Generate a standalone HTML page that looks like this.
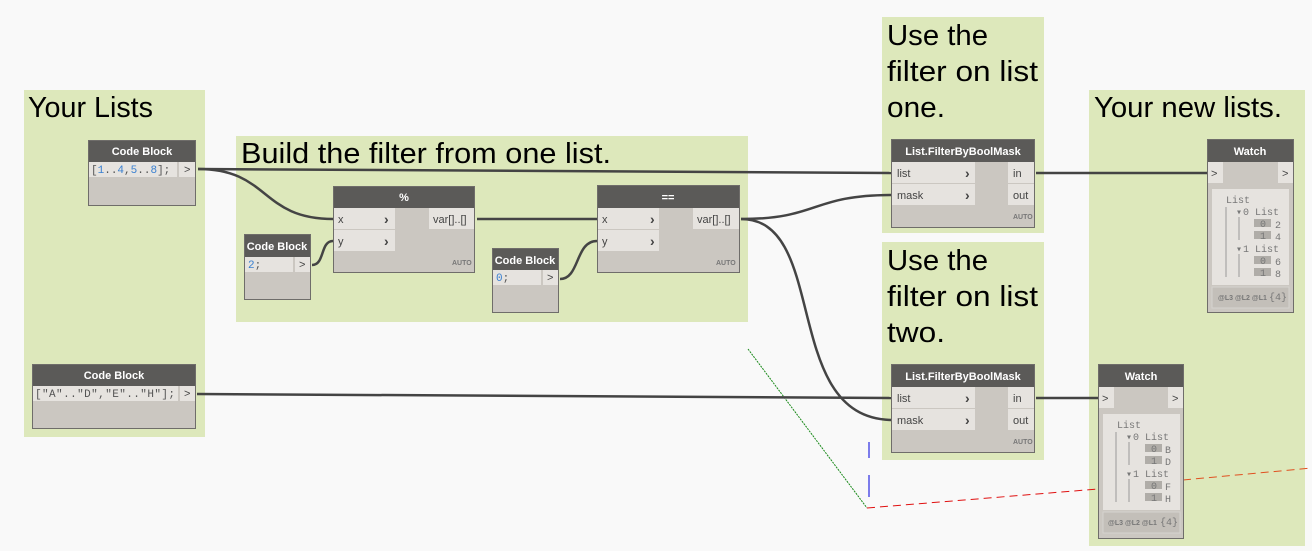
<!DOCTYPE html>
<html><head><meta charset="utf-8"><style>
html,body{margin:0;padding:0;background:#f9f9f9;}
svg{display:block;}
text{font-family:"Liberation Sans",sans-serif;}
.t{font-size:29px;fill:#000;}
.h{font-size:11px;fill:#fff;font-weight:bold;text-anchor:middle;}
.p{font-size:11px;fill:#444;}
.m{font-family:"Liberation Mono",monospace;font-size:11px;}
.a{font-size:7px;fill:#777;font-weight:bold;}
.w{font-family:"Liberation Mono",monospace;font-size:10px;fill:#777;}
.ar{font-size:14px;fill:#444;font-weight:bold;}
</style></head><body>
<svg width="1312" height="551" viewBox="0 0 1312 551">
<rect width="1312" height="551" fill="#f9f9f9"/>
<g fill="#dde8bb">
<rect x="24" y="90" width="181" height="347"/>
<rect x="236" y="136" width="512" height="186"/>
<rect x="882" y="17" width="162" height="216"/>
<rect x="882" y="242" width="162" height="218"/>
<rect x="1089" y="90" width="216" height="456"/>
</g>
<g class="t">
<text class="t" x="28" y="117" textLength="125" lengthAdjust="spacingAndGlyphs">Your Lists</text>
<text class="t" x="241" y="163" textLength="370" lengthAdjust="spacingAndGlyphs">Build the filter from one list.</text>
<text class="t" x="887" y="45" textLength="101" lengthAdjust="spacingAndGlyphs">Use the</text>
<text class="t" x="887" y="81" textLength="151" lengthAdjust="spacingAndGlyphs">filter on list</text>
<text class="t" x="887" y="117" textLength="58" lengthAdjust="spacingAndGlyphs">one.</text>
<text class="t" x="887" y="270" textLength="101" lengthAdjust="spacingAndGlyphs">Use the</text>
<text class="t" x="887" y="306" textLength="151" lengthAdjust="spacingAndGlyphs">filter on list</text>
<text class="t" x="887" y="342" textLength="58" lengthAdjust="spacingAndGlyphs">two.</text>
<text class="t" x="1094" y="117" textLength="188" lengthAdjust="spacingAndGlyphs">Your new lists.</text>
</g>

<line x1="748" y1="349" x2="867" y2="508" stroke="#1a8a1a" stroke-width="1" stroke-dasharray="2,1"/>
<line x1="867" y1="508" x2="1098" y2="489" stroke="#e01010" stroke-width="1" stroke-dasharray="8,5"/>
<line x1="1183" y1="480" x2="1312" y2="468" stroke="#e05020" stroke-width="1" stroke-dasharray="8,5"/>
<line x1="869" y1="442" x2="869" y2="458" stroke="#0000dd" stroke-width="1"/>
<line x1="869" y1="475" x2="869" y2="497" stroke="#0000dd" stroke-width="1"/>

<g fill="none" stroke="#444" stroke-width="2.5">
<path d="M198 169 L893 173"/>
<path d="M198 169 C270 169 260 219 333 219"/>
<path d="M312 265 C325 265 320 241 333 241"/>
<path d="M477 219 L597 219"/>
<path d="M560 279 C580 279 575 241 597 241"/>
<path d="M741 219 C820 219 810 195 893 195"/>
<path d="M741 219 C830 219 780 420 893 420"/>
<path d="M197 394 L893 398"/>
<path d="M1036 173 L1207 173"/>
<path d="M1036 398 L1098 398"/>
</g>

<g>
<rect x="88.5" y="140.5" width="107" height="65" fill="#cbc7c1" stroke="#6f6d6a"/>
<rect x="89" y="141" width="106" height="21" fill="#5b5a58"/>
<text class="h" x="142" y="155">Code Block</text>
<rect x="89" y="162" width="88" height="15" fill="#e6e3df"/>
<rect x="179" y="162" width="16" height="15" fill="#e6e3df"/>
<text class="m" x="91" y="173"><tspan fill="#555">[</tspan><tspan fill="#3a80d0">1</tspan><tspan fill="#555">..</tspan><tspan fill="#3a80d0">4</tspan><tspan fill="#555">,</tspan><tspan fill="#3a80d0">5</tspan><tspan fill="#555">..</tspan><tspan fill="#3a80d0">8</tspan><tspan fill="#555">];</tspan></text>
<text class="p" x="184" y="173">&gt;</text>
</g>
<g>
<rect x="32.5" y="364.5" width="163" height="64" fill="#cbc7c1" stroke="#6f6d6a"/>
<rect x="33" y="365" width="162" height="21" fill="#5b5a58"/>
<text class="h" x="114" y="379">Code Block</text>
<rect x="33" y="386" width="145" height="15" fill="#e6e3df"/>
<rect x="180" y="386" width="15" height="15" fill="#e6e3df"/>
<text class="m" x="35" y="397" fill="#555" textLength="140">["A".."D","E".."H"];</text>
<text class="p" x="184" y="397">&gt;</text>
</g>
<g>
<rect x="244.5" y="234.5" width="66" height="65" fill="#cbc7c1" stroke="#6f6d6a"/>
<rect x="245" y="235" width="65" height="22" fill="#5b5a58"/>
<text class="h" x="277" y="250">Code Block</text>
<rect x="245" y="257" width="48" height="15" fill="#e6e3df"/>
<rect x="295" y="257" width="15" height="15" fill="#e6e3df"/>
<text class="m" x="248" y="268"><tspan fill="#3a80d0">2</tspan><tspan fill="#555">;</tspan></text>
<text class="p" x="299" y="268">&gt;</text>
</g>
<g>
<rect x="492.5" y="248.5" width="66" height="64" fill="#cbc7c1" stroke="#6f6d6a"/>
<rect x="493" y="249" width="65" height="21" fill="#5b5a58"/>
<text class="h" x="525" y="264">Code Block</text>
<rect x="493" y="270" width="48" height="15" fill="#e6e3df"/>
<rect x="543" y="270" width="15" height="15" fill="#e6e3df"/>
<text class="m" x="496" y="281"><tspan fill="#3a80d0">0</tspan><tspan fill="#555">;</tspan></text>
<text class="p" x="547" y="281">&gt;</text>
</g>
<g>
<rect x="333.5" y="186.5" width="141" height="86" fill="#cbc7c1" stroke="#6f6d6a"/>
<rect x="334" y="187" width="140" height="21" fill="#5b5a58"/>
<text class="h" x="404" y="201">%</text>
<rect x="334" y="208" width="61" height="21" fill="#e6e3df"/>
<rect x="334" y="230" width="61" height="21" fill="#e6e3df"/>
<rect x="429" y="208" width="45" height="21" fill="#e6e3df"/>
<text class="p" x="338" y="223">x</text><text class="p" x="338" y="245">y</text>
<text class="ar" x="384" y="224">›</text><text class="ar" x="384" y="246">›</text>
<text class="p" x="433" y="223">var[]..[]</text>
<text class="a" x="452" y="265">AUTO</text>
</g>
<g>
<rect x="597.5" y="185.5" width="142" height="87" fill="#cbc7c1" stroke="#6f6d6a"/>
<rect x="598" y="186" width="141" height="22" fill="#5b5a58"/>
<text class="h" x="668" y="201">==</text>
<rect x="598" y="208" width="61" height="21" fill="#e6e3df"/>
<rect x="598" y="230" width="61" height="21" fill="#e6e3df"/>
<rect x="693" y="208" width="46" height="21" fill="#e6e3df"/>
<text class="p" x="602" y="223">x</text><text class="p" x="602" y="245">y</text>
<text class="ar" x="650" y="224">›</text><text class="ar" x="650" y="246">›</text>
<text class="p" x="697" y="223">var[]..[]</text>
<text class="a" x="716" y="265">AUTO</text>
</g>
<g>
<rect x="891.5" y="139.5" width="143" height="88" fill="#cbc7c1" stroke="#6f6d6a"/>
<rect x="892" y="140" width="142" height="22" fill="#5b5a58"/>
<text class="h" x="963" y="155">List.FilterByBoolMask</text>
<rect x="892" y="162" width="83" height="21" fill="#e6e3df"/>
<rect x="892" y="184" width="83" height="21" fill="#e6e3df"/>
<rect x="1008" y="162" width="26" height="21" fill="#e6e3df"/>
<rect x="1008" y="184" width="26" height="21" fill="#e6e3df"/>
<text class="p" x="897" y="177">list</text><text class="p" x="897" y="199">mask</text>
<text class="ar" x="965" y="178">›</text><text class="ar" x="965" y="200">›</text>
<text class="p" x="1013" y="177">in</text><text class="p" x="1013" y="199">out</text>
<text class="a" x="1013" y="219">AUTO</text>
</g>
<g>
<rect x="891.5" y="364.5" width="143" height="88" fill="#cbc7c1" stroke="#6f6d6a"/>
<rect x="892" y="365" width="142" height="22" fill="#5b5a58"/>
<text class="h" x="963" y="380">List.FilterByBoolMask</text>
<rect x="892" y="387" width="83" height="21" fill="#e6e3df"/>
<rect x="892" y="409" width="83" height="21" fill="#e6e3df"/>
<rect x="1008" y="387" width="26" height="21" fill="#e6e3df"/>
<rect x="1008" y="409" width="26" height="21" fill="#e6e3df"/>
<text class="p" x="897" y="402">list</text><text class="p" x="897" y="424">mask</text>
<text class="ar" x="965" y="403">›</text><text class="ar" x="965" y="425">›</text>
<text class="p" x="1013" y="402">in</text><text class="p" x="1013" y="424">out</text>
<text class="a" x="1013" y="444">AUTO</text>
</g>
<g>
<rect x="1207.5" y="139.5" width="86" height="173" fill="#cbc7c1" stroke="#6f6d6a"/>
<rect x="1208" y="140" width="85" height="22" fill="#5b5a58"/>
<text class="h" x="1250" y="155">Watch</text>
<rect x="1208" y="162" width="15" height="21" fill="#e6e3df"/>
<rect x="1278" y="162" width="15" height="21" fill="#e6e3df"/>
<text class="p" x="1211" y="177">&gt;</text><text class="p" x="1282" y="177">&gt;</text>
<rect x="1212" y="189" width="77" height="96" fill="#e6e3df"/>
<text class="w" x="1226" y="203">List</text>
<text class="w" x="1236" y="215" fill="#6b9bc8">▾</text><text class="w" x="1243" y="215">0 List</text>
<rect x="1254" y="219" width="17" height="8" fill="#b0ada8"/><text class="w" x="1260" y="227">0</text><text class="w" x="1275" y="228">2</text>
<rect x="1254" y="231" width="17" height="8" fill="#b0ada8"/><text class="w" x="1260" y="239">1</text><text class="w" x="1275" y="240">4</text>
<text class="w" x="1236" y="252" fill="#6b9bc8">▾</text><text class="w" x="1243" y="252">1 List</text>
<rect x="1254" y="256" width="17" height="8" fill="#b0ada8"/><text class="w" x="1260" y="264">0</text><text class="w" x="1275" y="265">6</text>
<rect x="1254" y="268" width="17" height="8" fill="#b0ada8"/><text class="w" x="1260" y="276">1</text><text class="w" x="1275" y="277">8</text>
<g stroke="#999" stroke-width="1"><line x1="1226" y1="207" x2="1226" y2="277"/><line x1="1239" y1="217" x2="1239" y2="240"/><line x1="1239" y1="254" x2="1239" y2="277"/></g>
<rect x="1212" y="287" width="77" height="21" fill="#c3bfb9" stroke="#d6d3ce"/>
<text class="a" x="1218" y="300" fill="#666">@L3 @L2 @L1</text><text class="w" x="1269" y="300">{4}</text>
</g>
<g>
<rect x="1098.5" y="364.5" width="85" height="174" fill="#cbc7c1" stroke="#6f6d6a"/>
<rect x="1099" y="365" width="84" height="22" fill="#5b5a58"/>
<text class="h" x="1141" y="380">Watch</text>
<rect x="1099" y="387" width="15" height="21" fill="#e6e3df"/>
<rect x="1168" y="387" width="15" height="21" fill="#e6e3df"/>
<text class="p" x="1102" y="402">&gt;</text><text class="p" x="1172" y="402">&gt;</text>
<rect x="1103" y="414" width="77" height="96" fill="#e6e3df"/>
<text class="w" x="1117" y="428">List</text>
<text class="w" x="1126" y="440" fill="#6b9bc8">▾</text><text class="w" x="1133" y="440">0 List</text>
<rect x="1145" y="444" width="17" height="8" fill="#b0ada8"/><text class="w" x="1151" y="452">0</text><text class="w" x="1165" y="453">B</text>
<rect x="1145" y="456" width="17" height="8" fill="#b0ada8"/><text class="w" x="1151" y="464">1</text><text class="w" x="1165" y="465">D</text>
<text class="w" x="1126" y="477" fill="#6b9bc8">▾</text><text class="w" x="1133" y="477">1 List</text>
<rect x="1145" y="481" width="17" height="8" fill="#b0ada8"/><text class="w" x="1151" y="489">0</text><text class="w" x="1165" y="490">F</text>
<rect x="1145" y="493" width="17" height="8" fill="#b0ada8"/><text class="w" x="1151" y="501">1</text><text class="w" x="1165" y="502">H</text>
<g stroke="#999" stroke-width="1"><line x1="1116" y1="432" x2="1116" y2="502"/><line x1="1129" y1="442" x2="1129" y2="465"/><line x1="1129" y1="479" x2="1129" y2="502"/></g>
<rect x="1103" y="512" width="77" height="21" fill="#c3bfb9" stroke="#d6d3ce"/>
<text class="a" x="1108" y="525" fill="#666">@L3 @L2 @L1</text><text class="w" x="1160" y="525">{4}</text>
</g>
</svg>
</body></html>
